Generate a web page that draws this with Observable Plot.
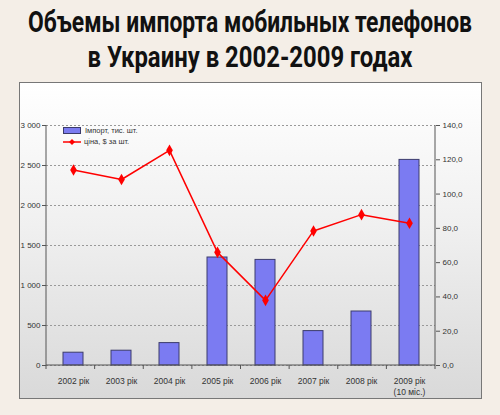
<!DOCTYPE html>
<html>
<head>
<meta charset="utf-8">
<script src="https://cdn.jsdelivr.net/npm/d3@7"></script>
<script src="https://cdn.jsdelivr.net/npm/@observablehq/plot@0.6"></script>
<style>
  html, body { margin: 0; padding: 0; }
  body { width: 500px; height: 415px; background: #f4eee7; position: relative; overflow: hidden; font-family: "Liberation Sans", Arial, sans-serif; }
  #title { position: absolute; left: 0; top: 0; width: 500px; height: 80px; }
  #title text { font-family: Roboto, "DejaVu Sans", sans-serif; font-weight: bold; font-size: 22px; fill: #111; }
  #panel { position: absolute; left: 19px; top: 82px; width: 461px; height: 315px; border: 1px solid #777; background: linear-gradient(to bottom, #ffffff 0%, #f0f0f0 45%, #d9d9d9 100%); }
  #chart { position: absolute; left: 0; top: 0; }
  #legend { position: absolute; left: 43px; top: 42px; font-size: 7.5px; color: #333; line-height: 11px; }
  #legend .row { display: flex; align-items: center; height: 11px; }
  #legend .sw { width: 16px; height: 5px; background: #7b7bf0; border: 1px solid #3a3a6a; margin-right: 4px; }
  #legend .ln { width: 18px; height: 10px; margin-right: 3px; }
</style>
</head>
<body>
<svg id="title" width="500" height="80">
  <g transform="translate(0,32) scale(1,1.3)">
    <text x="250" y="0" text-anchor="middle" textLength="444" lengthAdjust="spacingAndGlyphs">Объемы импорта мобильных телефонов</text>
  </g>
  <g transform="translate(0,67) scale(1,1.3)">
    <text x="250" y="0" text-anchor="middle" textLength="325" lengthAdjust="spacingAndGlyphs">в Украину в 2002-2009 годах</text>
  </g>
</svg>
<div id="panel">
  <div id="chart"></div>
  <div id="legend">
    <div class="row"><div class="sw"></div><span>Імпорт, тис. шт.</span></div>
    <div class="row"><svg class="ln" viewBox="0 0 18 10"><line x1="0" y1="5" x2="18" y2="5" stroke="red" stroke-width="1.5"/><path d="M9 2 L12 5 L9 8 L6 5 Z" fill="red"/></svg><span>ціна, $ за шт.</span></div>
  </div>
</div>
<script>
const years = ["2002 рік", "2003 рік", "2004 рік", "2005 рік", "2006 рік", "2007 рік", "2008 рік", "2009 рік\n(10 міс.)"];
const imports = [160, 185, 280, 1350, 1320, 430, 675, 2570];
const prices = [114, 108.5, 125.5, 66, 38, 78.5, 88, 83];
const leftTicks = [0, 500, 1000, 1500, 2000, 2500, 3000];
const rightTicks = [0, 20, 40, 60, 80, 100, 120, 140];
const leftMax = 3000, rightMax = 140;

const k = leftMax / rightMax;
const data = years.map((year, i) => ({year, imports: imports[i], price: prices[i]}));

const fmtLeft = d => d3.format(",")(d).replace(/,/g, " ");
const fmtRight = d => (d / k).toFixed(1).replace(".", ",");

const frameLines = (index, scales, values, dims) => {
  const g = d3.create("svg:g");
  const x0 = dims.marginLeft, x1 = dims.width - dims.marginRight;
  const y0 = dims.marginTop, y1 = dims.height - dims.marginBottom;
  g.append("line").attr("x1", x0).attr("x2", x0).attr("y1", y0).attr("y2", y1).attr("stroke", "#555");
  g.append("line").attr("x1", x1).attr("x2", x1).attr("y1", y0).attr("y2", y1).attr("stroke", "#555");
  g.append("line").attr("x1", x0).attr("x2", x1).attr("y1", y1).attr("y2", y1).attr("stroke", "#555");
  const n = years.length;
  const step = (x1 - x0) / n;
  for (let i = 0; i <= n; i++) {
    const xb = x0 + step * i;
    g.append("line").attr("x1", xb).attr("x2", xb).attr("y1", y1).attr("y2", y1 + 4).attr("stroke", "#555");
  }
  return g.node();
};

const chart = Plot.plot({
  width: 461,
  height: 315,
  marginLeft: 26,
  marginRight: 46,
  marginTop: 42,
  marginBottom: 33,
  style: {background: "transparent", fontFamily: "Liberation Sans, Arial, sans-serif", fontSize: "8px", color: "#333"},
  x: {domain: years, paddingInner: 0.59, paddingOuter: 0.295, label: null},
  y: {domain: [0, leftMax], label: null},
  marks: [
    Plot.gridY(leftTicks, {stroke: "#999", strokeOpacity: 1, strokeDasharray: "2,2"}),
    Plot.barY(data, {x: "year", y: "imports", fill: "#7b7bf2", stroke: "#3c3c6c", strokeWidth: 1}),
    Plot.lineY(data, {x: "year", y: d => d.price * k, stroke: "red", strokeWidth: 1.5}),
    Plot.dot(data, {x: "year", y: d => d.price * k, fill: "red", symbol: "diamond", r: 3.5}),
    frameLines,
    Plot.axisY(leftTicks, {anchor: "left", tickFormat: fmtLeft, tickSize: 4, tickPadding: 2, stroke: "#555"}),
    Plot.axisY(rightTicks.map(v => v * k), {anchor: "right", tickFormat: fmtRight, tickSize: 4, tickPadding: 3, stroke: "#555"}),
    Plot.axisX({tickSize: 0, tickPadding: 11, lineHeight: 1.3, fontSize: 8.5})
  ]
});
document.getElementById("chart").appendChild(chart);
</script>
</body>
</html>
